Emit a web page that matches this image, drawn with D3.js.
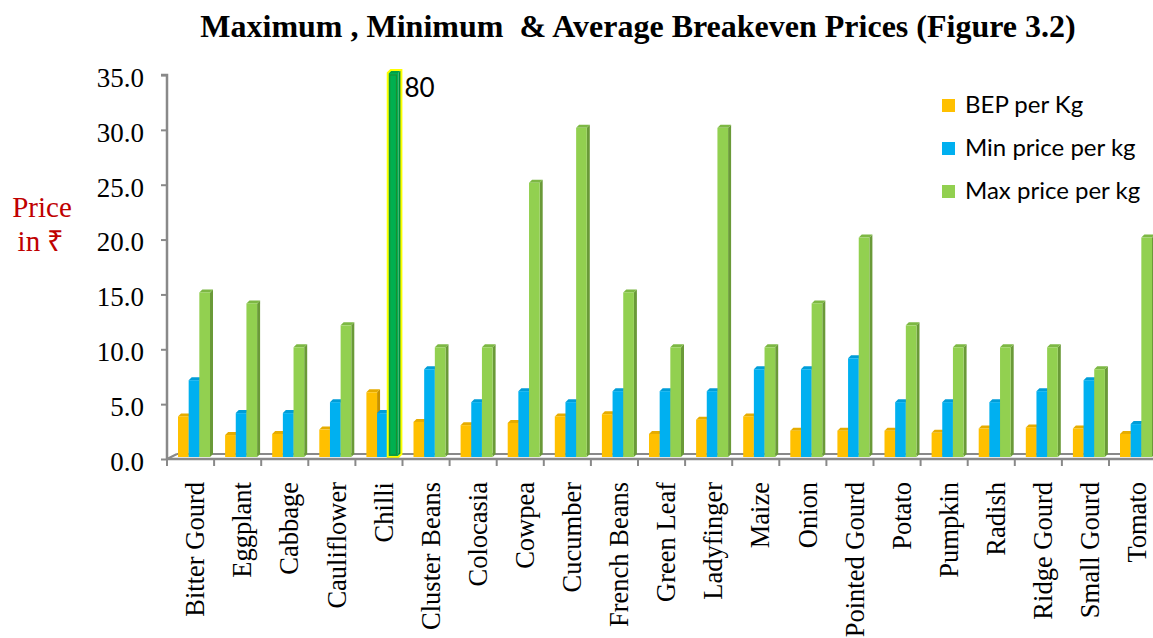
<!DOCTYPE html>
<html>
<head>
<meta charset="utf-8">
<script src="https://cdn.jsdelivr.net/npm/d3@7"></script>
<style>
  body { margin: 0; background: #fff; }
  svg { display: block; }
</style>
</head>
<body>
<svg id="chart" width="1153" height="638"></svg>
<script>
// Data
const categories = ["Bitter Gourd", "Eggplant", "Cabbage", "Cauliflower", "Chilli", "Cluster Beans",
    "Colocasia", "Cowpea", "Cucumber", "French Beans", "Green Leaf", "Ladyfinger", "Maize", "Onion",
    "Pointed Gourd", "Potato", "Pumpkin", "Radish", "Ridge Gourd", "Small Gourd", "Tomato"];
const seriesNames = ["BEP per Kg", "Min price per kg", "Max price per kg"];
const bepPerKg = [3.7, 2.0, 2.1, 2.5, 5.9, 3.2, 2.9, 3.1, 3.7, 3.9, 2.1, 3.4, 3.7, 2.4, 2.4, 2.4, 2.2, 2.6, 2.7, 2.6, 2.1];
const minPrice = [7, 4, 4, 5, 4, 8, 5, 6, 5, 6, 6, 6, 8, 8, 9, 5, 5, 5, 6, 7, 3];
const maxPrice = [15, 14, 10, 12, 80, 10, 10, 25, 30, 15, 10, 30, 10, 14, 20, 12, 10, 10, 10, 8, 20];
const yTicks = [0, 5, 10, 15, 20, 25, 30, 35];

const title = "Maximum , Minimum  & Average Breakeven Prices (Figure 3.2)";

const svg = d3.select('#chart');

// colours: front, side, top
const palette = {
    "BEP per Kg": { front: '#FFC000', side: '#C69200', top: '#E6AC00' },
    "Min price per kg": { front: '#00B0F0', side: '#0086B8', top: '#009DD8' },
    "Max price per kg": { front: '#92D050', side: '#6A9A38', top: '#7DB844' }
};
const axisColor = '#898989';
const serif = '"Liberation Serif", "Times New Roman", serif';

// ===================================================================
// SCALES
// ===================================================================
const x = d3.scaleBand()
    .domain(categories)
    .range([167, 167 + categories.length * 47.1]);

const inner = d3.scaleBand()
    .domain(seriesNames)
    .range([11, 43]);

const yMax = d3.max(yTicks);
const y = d3.scaleLinear()
    .domain([0, yMax])
    .range([459, 75]);

const lift = 2;   // bars stand slightly back on the 3D floor
const depth = 3;  // side / cap depth

const rows = categories.map((c, i) => ({
    cat: c,
    values: [bepPerKg[i], minPrice[i], maxPrice[i]]
}));

// ===================================================================
// TITLE & Y LABEL
// ===================================================================
svg.append('text')
    .attr('x', 638)
    .attr('y', 37)
    .attr('text-anchor', 'middle')
    .style('white-space', 'pre')
    .style('font-family', serif)
    .style('font-weight', 'bold')
    .style('font-size', '32px')
    .text(title);

const yLabel = svg.append('text')
    .attr('text-anchor', 'middle')
    .style('font-family', serif)
    .style('font-size', '29px')
    .style('fill', '#C00000');
yLabel.append('tspan').attr('x', 42).attr('y', 217).text('Price');
yLabel.append('tspan').attr('x', 41).attr('y', 251).text('in \u20B9');

// ===================================================================
// AXES / FLOOR
// ===================================================================
const xEnd = x.range()[1];

// floor back edge + diagonal
svg.append('line')
    .attr('x1', x.range()[0] + 10).attr('x2', xEnd + 10)
    .attr('y1', y(0) - 5).attr('y2', y(0) - 5)
    .attr('stroke', axisColor).attr('stroke-width', 2);
svg.append('line')
    .attr('x1', x.range()[0]).attr('x2', x.range()[0] + 10)
    .attr('y1', y(0)).attr('y2', y(0) - 5)
    .attr('stroke', axisColor).attr('stroke-width', 2);

// y axis
const yAxis = d3.axisLeft(y)
    .tickValues(yTicks)
    .tickSize(6)
    .tickPadding(17)
    .tickFormat(d3.format('.1f'));

const yAxisG = svg.append('g')
    .attr('transform', `translate(${x.range()[0]},0)`)
    .call(yAxis);
yAxisG.select('.domain').attr('stroke', axisColor).attr('stroke-width', 2.5)
    .attr('d', `M-6,${y(yMax)}H0V${y(0)}`);
yAxisG.selectAll('.tick line').attr('stroke', axisColor).attr('stroke-width', 2);
yAxisG.selectAll('.tick text')
    .attr('dy', '0.42em')
    .style('font-family', serif)
    .style('font-size', '27px')
    .style('fill', '#000');

// ===================================================================
// BARS
// ===================================================================
function barTop(v) { return y(Math.min(v, yMax)) - lift; }

const groups = svg.append('g').selectAll('g.cat')
    .data(rows)
    .join('g')
    .attr('class', 'cat')
    .attr('transform', d => `translate(${x(d.cat)},0)`);

const bars = groups.selectAll('g.bar')
    .data(d => d.values.map((v, j) => ({ cat: d.cat, series: seriesNames[j], value: v })))
    .join('g')
    .attr('class', 'bar');

const w = inner.bandwidth();

bars.each(function (d) {
    const g = d3.select(this);
    const x0 = inner(d.series);
    const top = barTop(d.value);
    const bottom = y(0) - lift;
    const clipped = d.value > yMax;
    const col = clipped
        ? { front: '#00B050', side: '#008A3E', top: '#00A048' }
        : palette[d.series];

    // side face
    g.append('path')
        .attr('d', `M${x0 + w},${top}L${x0 + w + depth},${top - depth}L${x0 + w + depth},${bottom - depth}L${x0 + w},${bottom}Z`)
        .attr('fill', col.side);
    // top cap
    g.append('path')
        .attr('d', `M${x0},${top}L${x0 + depth},${top - depth}L${x0 + w + depth},${top - depth}L${x0 + w},${top}Z`)
        .attr('fill', col.top);
    // front face
    g.append('rect')
        .attr('x', x0)
        .attr('y', top)
        .attr('width', w)
        .attr('height', bottom - top)
        .attr('fill', col.front);

    if (clipped) {
        // highlighted, broken-scale bar with its real value
        g.append('path')
            .attr('d', `M${x0},${bottom}V${top}L${x0 + depth},${top - depth}H${x0 + w + depth}V${bottom - depth}L${x0 + w},${bottom}Z`)
            .attr('fill', 'none')
            .attr('stroke', '#FFFF00')
            .attr('stroke-width', 2);
        g.append('rect')
            .attr('x', x0 + 2).attr('y', top + 2)
            .attr('width', w - 4).attr('height', bottom - top - 4)
            .attr('fill', 'none')
            .attr('stroke', '#1E8A2E')
            .attr('stroke-width', 1);
        g.append('text')
            .attr('x', x0 + w + depth + 3)
            .attr('y', top + 24)
            .style('font-family', 'Lato, "Open Sans", sans-serif')
            .style('font-size', '26px')
            .style('fill', '#000')
            .text(d.value);
    }
});

// x axis line + ticks on top of bar bottoms
svg.append('line')
    .attr('x1', x.range()[0]).attr('x2', xEnd)
    .attr('y1', y(0)).attr('y2', y(0))
    .attr('stroke', axisColor).attr('stroke-width', 2.5);

const bounds = categories.map(c => x(c)).concat([xEnd]);
svg.append('g').selectAll('line')
    .data(bounds)
    .join('line')
    .attr('x1', d => d).attr('x2', d => d)
    .attr('y1', y(0)).attr('y2', y(0) + 7)
    .attr('stroke', axisColor).attr('stroke-width', 2);

// category labels
svg.append('g').selectAll('text')
    .data(categories)
    .join('text')
    .attr('transform', d => `translate(${x(d) + x.bandwidth() / 2 + 1},482) rotate(-90)`)
    .attr('text-anchor', 'end')
    .attr('dy', '0.48em')
    .style('font-family', serif)
    .style('font-size', '26.5px')
    .style('fill', '#000')
    .text(d => d);

// ===================================================================
// LEGEND
// ===================================================================
const legend = svg.append('g')
    .attr('transform', 'translate(942,99)');

const items = legend.selectAll('g')
    .data(seriesNames)
    .join('g')
    .attr('transform', (d, i) => `translate(0,${i * 43})`);

items.append('rect')
    .attr('width', 13)
    .attr('height', 13)
    .attr('fill', d => palette[d].front);

items.append('text')
    .attr('x', 23)
    .attr('y', 13.5)
    .style('font-family', 'Lato, "Open Sans", sans-serif')
    .style('font-size', '24px')
    .style('fill', '#000')
    .text(d => d);
</script>
</body>
</html>
